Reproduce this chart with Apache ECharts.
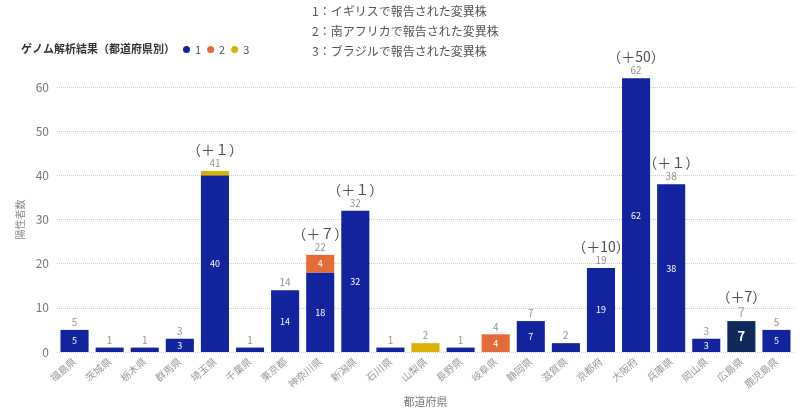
<!DOCTYPE html>
<html><head><meta charset="utf-8">
<script src="https://cdn.jsdelivr.net/npm/echarts@6/dist/echarts.min.js"></script>
<style>html,body{margin:0;padding:0;background:#fff}#c{width:800px;height:410px}</style>
</head><body><div id="c"></div>
<script>
const categories = ['福島県','茨城県','栃木県','群馬県','埼玉県','千葉県','東京都','神奈川県','新潟県','石川県','山梨県','長野県','岐阜県','静岡県','滋賀県','京都府','大阪府','兵庫県','岡山県','広島県','鹿児島県'];
const series1 = [5,1,1,3,40,1,14,18,32,1,0,1,0,7,2,19,62,38,3,7,5];
const series2 = [0,0,0,0,0,0,0,4,0,0,0,0,4,0,0,0,0,0,0,0,0];
const series3 = [0,0,0,0,1,0,0,0,0,0,2,0,0,0,0,0,0,0,0,0,0];
const increments = ['','','','','（＋１）','','','（＋７）','（＋１）','','','','','','','（＋10）','（＋50）','（＋１）','','（＋7）',''];
const yTicks = [0,10,20,30,40,50,60];
const notes = ['1：イギリスで報告された変異株','2：南アフリカで報告された変異株','3：ブラジルで報告された変異株'];
const seriesNames = ['1','2','3'];
const highlightIndex = 19;

const totals = categories.map((c,i)=>series1[i]+series2[i]+series3[i]);
const FONT = '"Noto Sans CJK JP", "Noto Sans", sans-serif';
const colors = ['#12239E','#E66C37','#D9B300'];

const chart = echarts.init(document.getElementById('c'));
function barData(arr, idx){
  return arr.map((v,i)=>{
    const o = {value: v === 0 ? null : v};
    if (idx===0 && i===highlightIndex){
      o.itemStyle = {color:'#0E2A5C'};
      o.label = {fontSize:13, fontWeight:'bold'};
    }
    return o;
  });
}
const insideLabel = {show:true, position:'inside', color:'#fff', fontSize:9, fontFamily:FONT,
  formatter: p => (p.value>=3 ? p.value : '')};
chart.setOption({
  animation:false,
  textStyle:{fontFamily:FONT},
  title:{text:'ゲノム解析結果（都道府県別）', left:16, top:38,
    textStyle:{fontSize:11, fontWeight:'bold', color:'#333', fontFamily:FONT}},
  legend:{data:seriesNames, left:178, top:39, icon:'circle', itemWidth:7, itemHeight:7, itemGap:6,
    textStyle:{fontSize:11, color:'#555', fontFamily:FONT}},
  graphic: notes.map((t,i)=>({type:'text', left:312, top:5+i*20,
    style:{text:t, fontSize:12, fill:'#555', fontFamily:FONT}})),
  grid:{left:57, right:6, top:87, bottom:58, outerBoundsMode:'none', containLabel:false},
  xAxis:{type:'category', data:categories,
    name:'都道府県', nameLocation:'middle', nameGap:37,
    nameTextStyle:{fontSize:11, color:'#777'},
    axisLine:{show:false}, axisTick:{show:false},
    axisLabel:{rotate:40, fontSize:10, color:'#999', margin:8, interval:0}},
  yAxis:{type:'value', min:0, max:60, interval:10,
    name:'陽性者数', nameLocation:'middle', nameGap:28, nameRotate:90,
    nameTextStyle:{fontSize:10, color:'#888'},
    axisLabel:{fontSize:12, color:'#777', formatter:v=> yTicks.includes(v)?v:''},
    axisLine:{show:false}, axisTick:{show:false},
    splitLine:{lineStyle:{type:'dotted', color:'#ccc'}}},
  series:[
    {name:seriesNames[0], type:'bar', stack:'a', data:barData(series1,0), barWidth:'80%', clip:false,
      itemStyle:{color:colors[0]}, label:insideLabel},
    {name:seriesNames[1], type:'bar', stack:'a', data:barData(series2,1), barWidth:'80%', clip:false,
      itemStyle:{color:colors[1]}, label:insideLabel},
    {name:seriesNames[2], type:'bar', stack:'a', data:barData(series3,2), barWidth:'80%', clip:false,
      itemStyle:{color:colors[2]}, label:{show:false}},
    {name:'total', type:'scatter', data:totals, symbolSize:1, clip:false,
      itemStyle:{color:'rgba(0,0,0,0)'}, silent:true, z:10,
      label:{show:true, position:'top', distance:1,
        formatter:p=>{
          const i=p.dataIndex;
          const t = i===highlightIndex ? '{h|'+totals[i]+'}' : '{t|'+totals[i]+'}';
          return increments[i] ? '{a|'+increments[i]+'}\n'+t : t;
        },
        rich:{
          a:{fontSize:14, color:'#222', fontFamily:FONT, lineHeight:15},
          t:{fontSize:10, color:'#777', fontFamily:FONT, lineHeight:12},
          h:{fontSize:13, color:'#999', fontFamily:FONT, lineHeight:15}
        }}}
  ]
});
</script></body></html>
